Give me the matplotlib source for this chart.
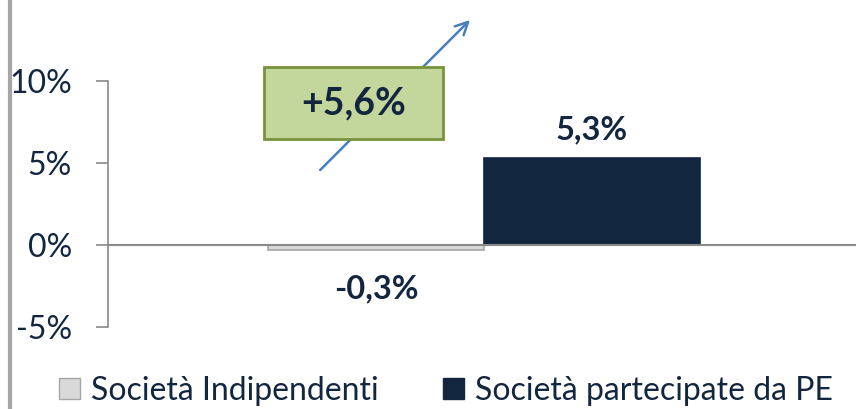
import matplotlib.pyplot as plt
from matplotlib.patches import Patch, FancyBboxPatch
from matplotlib.lines import Line2D

series = ["Società Indipendenti", "Società partecipate da PE"]
values = [-0.3, 5.3]
labels = ["-0,3%", "5,3%"]
colors = ["#d9d9d9", "#13263f"]
edges = ["#a6a6a6", "#13263f"]
yticks = [-5, 0, 5, 10]
ytick_labels = ["-5%", "0%", "5%", "10%"]
delta_label = "+5,6%"

navy = "#13263f"
grey = "#898989"
plt.rcParams["font.family"] = ["Lato", "DejaVu Sans"]

fig = plt.figure(figsize=(8.56, 4.09), dpi=100)
ax = fig.add_axes([108 / 856, 0.2005, 752 / 856, 0.6015])

w = 0.574
xs = [-w / 2, w / 2]
ax.bar(xs, values, width=w, color=colors, edgecolor=edges, linewidth=1.2, zorder=2)
ax.axhline(0, color=grey, lw=1.5, zorder=3)

ax.text(xs[0], -2.65, labels[0], ha="center", va="center", fontsize=23.5,
        fontweight="bold", color=navy)
ax.text(xs[1], 7.0, labels[1], ha="center", va="center", fontsize=23.5,
        fontweight="bold", color=navy)

# arrow + green box
ax.annotate("", xy=(-0.032, 13.84), xytext=(-0.441, 4.45),
            arrowprops=dict(arrowstyle="->,head_length=0.9,head_width=0.45",
                            color="#4a7ebb", lw=1.8),
            annotation_clip=False, zorder=4)
box = FancyBboxPatch((-0.585, 6.46), 0.476, 4.39, boxstyle="square,pad=0",
                     facecolor="#c3d69b", edgecolor="#77933c", lw=2,
                     clip_on=False, zorder=5)
ax.add_patch(box)
ax.text(-0.347, 8.65, delta_label, ha="center", va="center", fontsize=27,
        fontweight="bold", color=navy, zorder=6)

ax.set_xlim(-1, 1)
ax.set_ylim(-5, 10)
ax.set_yticks(yticks)
ax.set_yticklabels(ytick_labels, fontsize=23, color=navy)
ax.set_xticks([])
for s in ["top", "right", "bottom"]:
    ax.spines[s].set_visible(False)
ax.spines["left"].set_color(grey)
ax.spines["left"].set_linewidth(1.2)
ax.tick_params(axis="y", length=9, width=1.2, color=grey, pad=17)

# grey slide border on left
fig.add_artist(Line2D([9.5 / 856, 9.5 / 856], [0, 1], color="#a6a6a6", lw=3))

handles = [Patch(facecolor=c, edgecolor=e, label=s) for c, e, s in zip(colors, edges, series)]
fig.legend(handles=handles, loc="center", bbox_to_anchor=(446 / 856, 0.045), ncol=2,
           frameon=False, fontsize=23, handlelength=0.65, handleheight=0.65,
           handletextpad=0.35, columnspacing=2.0, labelcolor=navy)

fig.savefig("out.png", dpi=100)
